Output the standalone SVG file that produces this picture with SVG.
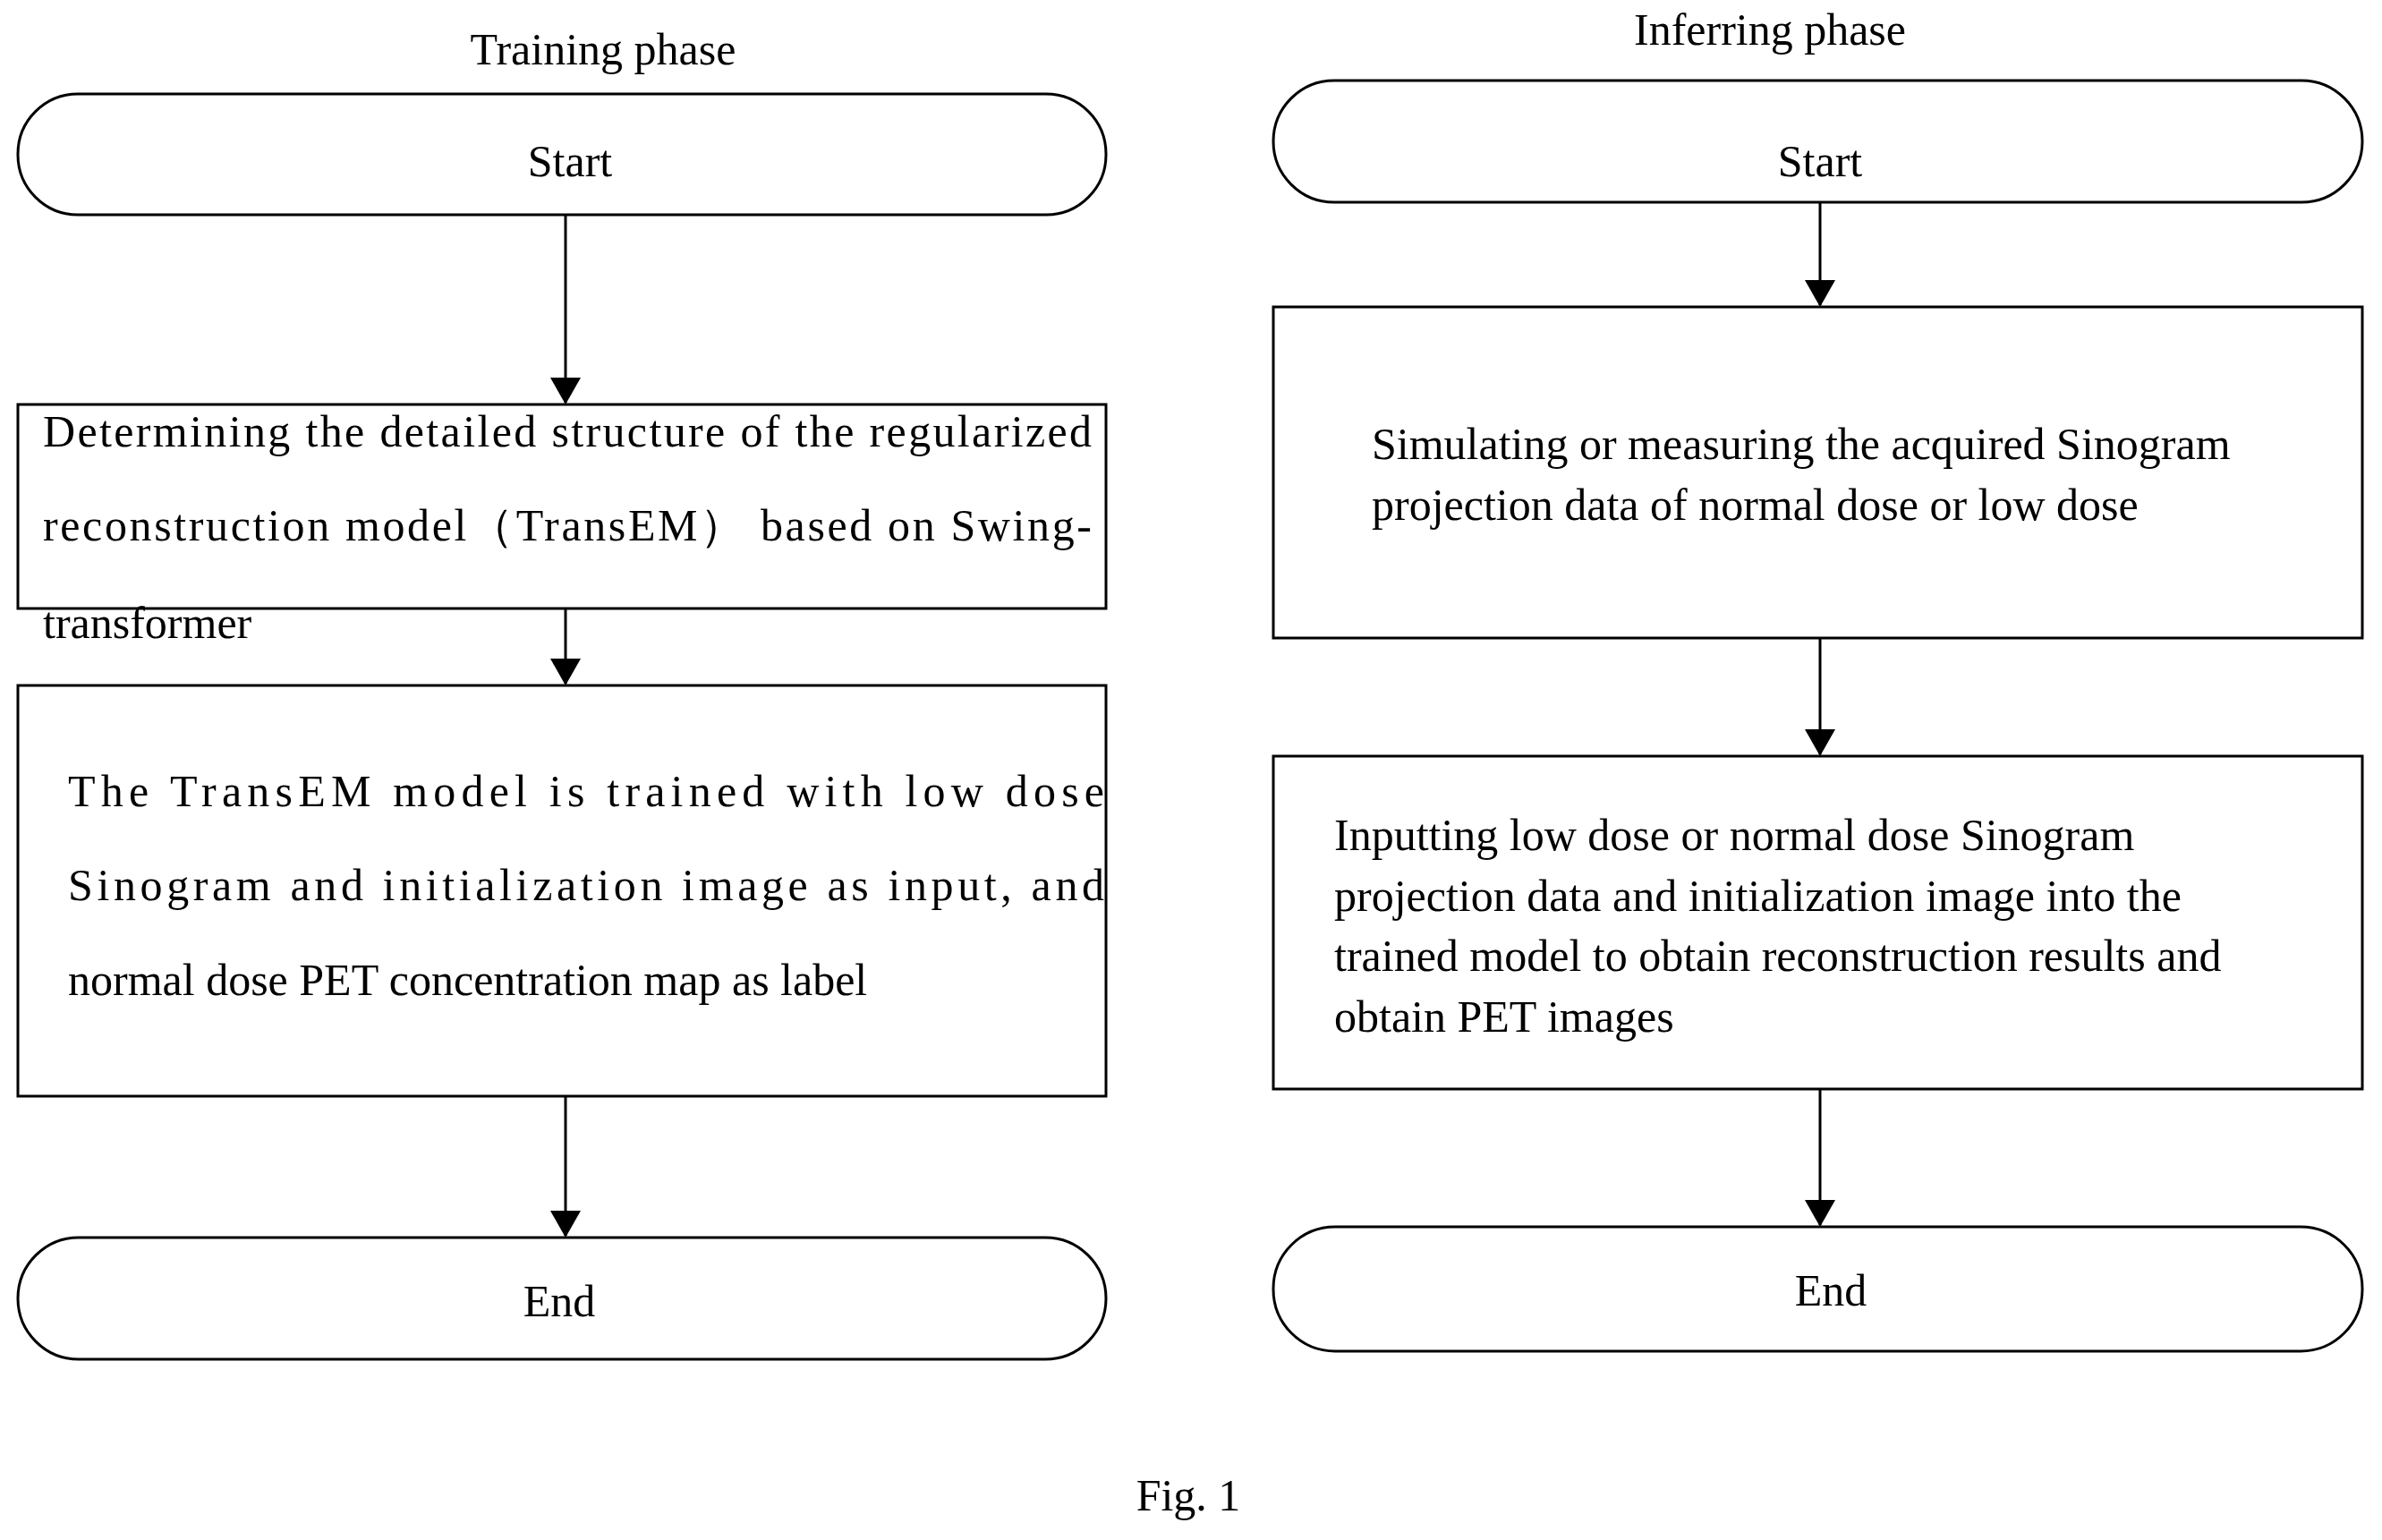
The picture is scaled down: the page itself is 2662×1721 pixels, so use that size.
<svg xmlns="http://www.w3.org/2000/svg" width="2662" height="1721" viewBox="0 0 2662 1721">
<style>
.s{fill:#fff;stroke:#000;stroke-width:3}
.t{font-family:"Liberation Serif",serif;font-size:50px;fill:#000}
.c{text-anchor:middle}
.l{stroke:#000;stroke-width:3;fill:none;marker-end:url(#a)}
</style>
<defs><marker id="a" markerWidth="30" markerHeight="34" refX="28" refY="17" orient="auto" markerUnits="userSpaceOnUse" viewBox="0 0 30 34"><path d="M0,0L30,17L0,34z" fill="#000"/></marker></defs>
<rect width="2662" height="1721" fill="#fff"/>
<text class="t c" x="674" y="72">Training phase</text>
<text class="t c" x="1978" y="50">Inferring phase</text>
<g id="conn">
<line class="l" x1="632" y1="240" x2="632" y2="450"/>
<line class="l" x1="632" y1="680" x2="632" y2="764"/>
<line class="l" x1="632" y1="1225" x2="632" y2="1381"/>
<line class="l" x1="2034" y1="226" x2="2034" y2="341"/>
<line class="l" x1="2034" y1="713" x2="2034" y2="843"/>
<line class="l" x1="2034" y1="1217" x2="2034" y2="1369"/>
</g>
<g id="start1"><rect class="s" x="20" y="105" width="1216" height="135" rx="67"/><text class="t c" x="637" y="197">Start</text></g>
<g id="box1"><rect class="s" x="20" y="452" width="1216" height="228"/>
<text class="t" x="48" y="499" textLength="1172" lengthAdjust="spacing">Determining the detailed structure of the regularized</text>
<text class="t" x="48" y="604" textLength="1172" lengthAdjust="spacing">reconstruction model（TransEM） based on Swing-</text>
<text class="t" x="48" y="713">transformer</text></g>
<g id="box2"><rect class="s" x="20" y="766" width="1216" height="459"/>
<text class="t" x="76" y="901" textLength="1158" lengthAdjust="spacing">The TransEM model is trained with low dose</text>
<text class="t" x="76" y="1006" textLength="1158" lengthAdjust="spacing">Sinogram and initialization image as input, and</text>
<text class="t" x="76" y="1112">normal dose PET concentration map as label</text></g>
<g id="end1"><rect class="s" x="20" y="1383" width="1216" height="136" rx="68"/><text class="t c" x="625" y="1471">End</text></g>
<g id="start2"><rect class="s" x="1423" y="90" width="1217" height="136" rx="68"/><text class="t c" x="2034" y="197">Start</text></g>
<g id="box3"><rect class="s" x="1423" y="343" width="1217" height="370"/>
<text class="t" x="1533" y="513">Simulating or measuring the acquired Sinogram</text>
<text class="t" x="1533" y="581">projection data of normal dose or low dose</text></g>
<g id="box4"><rect class="s" x="1423" y="845" width="1217" height="372"/>
<text class="t" x="1491" y="950">Inputting low dose or normal dose Sinogram</text>
<text class="t" x="1491" y="1018">projection data and initialization image into the</text>
<text class="t" x="1491" y="1085">trained model to obtain reconstruction results and</text>
<text class="t" x="1491" y="1153">obtain PET images</text></g>
<g id="end2"><rect class="s" x="1423" y="1371" width="1217" height="139" rx="69"/><text class="t c" x="2046" y="1459">End</text></g>
<text class="t c" x="1328" y="1688">Fig. 1</text>
</svg>
